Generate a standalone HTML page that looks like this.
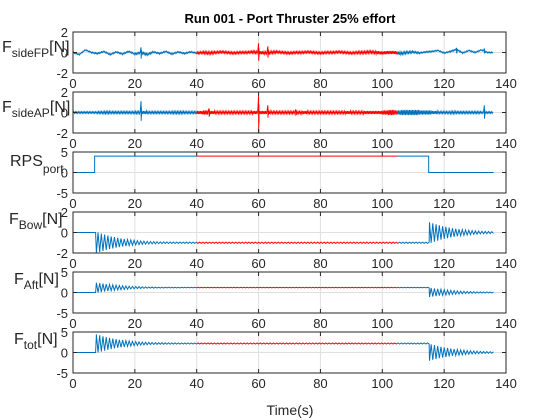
<!DOCTYPE html>
<html><head><meta charset="utf-8">
<style>
html,body{margin:0;padding:0;background:#fff;}
svg{display:block;font-family:"Liberation Sans",Arial,sans-serif;}
</style></head>
<body>
<svg id="chart" width="560" height="420" viewBox="0 0 560 420" xmlns="http://www.w3.org/2000/svg">
<rect width="560" height="420" fill="#fff"/>
<text x="290" y="23" text-anchor="middle" font-size="13" font-weight="bold" fill="#000">Run 001 - Port Thruster 25% effort</text>
<text x="290" y="415" text-anchor="middle" font-size="14" fill="#262626">Time(s)</text>
<g font-family="Liberation Sans, Arial, sans-serif" fill="#262626">
<text x="2" y="52" font-size="16">F<tspan font-size="12" dy="5">sideFP</tspan><tspan font-size="16" dy="-5">[N]</tspan></text>
<text x="2" y="112" font-size="16">F<tspan font-size="12" dy="5">sideAP</tspan><tspan font-size="16" dy="-5">[N]</tspan></text>
<text x="10" y="166" font-size="16">RPS<tspan font-size="12" dy="7">port</tspan></text>
<text x="9" y="224" font-size="16">F<tspan font-size="12" dy="5">Bow</tspan><tspan font-size="16" dy="-5">[N]</tspan></text>
<text x="14" y="284" font-size="16">F<tspan font-size="12" dy="5">Aft</tspan><tspan font-size="16" dy="-5">[N]</tspan></text>
<text x="14" y="344" font-size="16">F<tspan font-size="12" dy="5">tot</tspan><tspan font-size="16" dy="-5">[N]</tspan></text>
</g>
</svg>
<script>
// ---- data ----
const xTicks = [0, 20, 40, 60, 80, 100, 120, 140];
const redStart = 40, redEnd = 105;
const sideTimeStep = 2;
const fpBase = [0,-0.2,0.25,0,-0.1,0.1,-0.2,0.05,-0.15,0.1,-0.15,0,-0.2,0.05,-0.1,0.1,-0.15,0.05,-0.1,0.05,-0.05,
 0,-0.05,0,0.05,0,-0.05,0,0,0.05,0,-0.05,0,0.05,0,-0.05,0,0,0.05,0,-0.05,0,0,0.05,0,-0.05,0,0,0.05,0,-0.05,0,0,
 -0.1,0,0.05,-0.05,0.05,0.1,0.2,-0.05,0.1,0.3,-0.05,0.2,0,0.25,0,0];
const fpNoise = [0.05,0.05,0.05,0.06,0.06,0.06,0.06,0.06,0.06,0.06,0.08,0.1,0.08,0.06,0.06,0.06,0.06,0.06,0.06,0.06,0.1,
 0.12,0.12,0.1,0.1,0.1,0.1,0.1,0.1,0.12,0.15,0.12,0.12,0.1,0.1,0.1,0.1,0.1,0.1,0.1,0.1,0.1,0.1,0.1,0.1,0.1,0.12,0.12,0.12,0.15,0.15,0.15,0.15,
 0.12,0.1,0.08,0.06,0.06,0.05,0.05,0.05,0.06,0.06,0.05,0.05,0.05,0.05,0.05,0.05];
const fpSpikes = [[22,0.5,-0.6],[60,0.9,-0.8],[63,0.6,-0.5],[124,0.4,-0.1],[133,0.4,-0.1]];
const apBase = new Array(69).fill(0);
const apNoise = [0.08,0.08,0.08,0.08,0.1,0.12,0.1,0.1,0.1,0.1,0.12,0.15,0.1,0.1,0.1,0.1,0.12,0.12,0.1,0.1,0.15,
 0.2,0.15,0.12,0.12,0.12,0.12,0.12,0.12,0.15,0.15,0.15,0.12,0.12,0.12,0.12,0.12,0.15,0.12,0.12,0.12,0.12,0.12,0.12,0.15,0.12,0.12,0.15,0.15,0.15,0.2,0.25,0.2,
 0.25,0.25,0.25,0.2,0.2,0.15,0.1,0.1,0.12,0.1,0.1,0.1,0.1,0.08,0.08,0.08];
const apSpikes = [[22,1.1,-0.8],[44,0.4,-0.4],[60,1.6,-2],[63,0.7,-0.5],[72,0.3,-0.3],[133,0.7,-0.6]];
const rpsTimes = [0, 7, 7, 115, 115, 136];
const rpsValues = [0, 0, 4, 4, 0, 0];
// step-response series
const stepOn = 7.3, stepOff = 115, tEnd = 136, halfPeriod = 0.53;
const envelope = [1,0.9,0.8,0.7,0.62,0.55,0.48,0.42,0.37,0.32,0.28,0.24,0.21,0.18,0.16,0.14,0.12,0.11,0.1,0.09,0.09,0.08,0.08,0.07,0.07,0.07,0.06,0.06,0.06];
const rippleLevel = 0.06;
const bowLevels = [0, -1, 0];
const bowAmps = [1.0, 1.0];
const aftLevels = [0, 1.2, 0];
const aftAmps = [1.2, 1.1];
const totLevels = [0, 2.2, 0];
const totAmps = [2.2, 2.0];

// ---- layout ----
const X0 = 73, X1 = 506, XMAX = 140;
const panels = [
 {name:'fsidefp', top:32, yMin:-2, yMax:2, ticks:[-2,0,2]},
 {name:'fsideap', top:92, yMin:-2, yMax:2, ticks:[-2,0,2]},
 {name:'rps', top:152, yMin:-5, yMax:5, ticks:[-5,0,5]},
 {name:'fbow', top:212, yMin:-2, yMax:2, ticks:[-2,0,2]},
 {name:'faft', top:272, yMin:-5, yMax:5, ticks:[-5,0,5]},
 {name:'ftot', top:332, yMin:-5, yMax:5, ticks:[-5,0,5]}];
const H = 41;
const svg = document.getElementById('chart');
const NS = 'http://www.w3.org/2000/svg';
function el(tag, attrs, parent){const e=document.createElementNS(NS,tag);for(const k in attrs)e.setAttribute(k,attrs[k]);(parent||svg).appendChild(e);return e;}
const xs = t => X0 + t/XMAX*(X1-X0);
const BLUE = '#0072BD', RED = '#FF0000';

function sidePoints(base, noise, spikes){
  const pts=[];
  for(let i=0;i<base.length-1;i++){
    const t0=i*sideTimeStep;
    for(let k=0;k<8;k++){
      const t=t0+k*sideTimeStep/8;
      const b=base[i]+(base[i+1]-base[i])*k/8;
      pts.push([t, b+(k%2?noise[i]:-noise[i])]);
    }
  }
  spikes.forEach(s=>{
    let idx=pts.findIndex(p=>p[0]>=s[0]);
    pts.splice(idx,0,[s[0],s[1]],[s[0]+0.05,s[2]],[s[0]+0.1,s[1]*0.5],[s[0]+0.15,s[2]*0.5]);
  });
  return pts;
}
function stepPoints(levels, amps){
  const pts=[[0,levels[0]],[stepOn,levels[0]]];
  [[stepOn,stepOff,1,0],[stepOff,tEnd,2,1]].forEach(([a,b,li,ai])=>{
    const dir = levels[li]>levels[li-1]?1:-1;
    let t=a,k=0;
    while(t<b){
      const env = k/2<envelope.length ? envelope[Math.floor(k/2)] : rippleLevel;
      const sign = (k%2===0)?dir:-dir;
      pts.push([t+halfPeriod/2, levels[li]+sign*amps[ai]*env]);
      t+=halfPeriod;k++;
    }
  });
  return pts;
}
function interpAt(pts, t){
  for(let i=1;i<pts.length;i++){
    if(pts[i][0]>=t && pts[i-1][0]<=t){
      const a=pts[i-1],b=pts[i];
      if(b[0]===a[0]) return b[1];
      return a[1]+(b[1]-a[1])*(t-a[0])/(b[0]-a[0]);
    }
  }
  return pts[pts.length-1][1];
}
function drawSeries(g, pts, yf, name){
  const vs=interpAt(pts,redStart), ve=interpAt(pts,redEnd);
  const segs=[
    pts.filter(p=>p[0]<redStart).concat([[redStart,vs]]),
    [[redStart,vs]].concat(pts.filter(p=>p[0]>=redStart&&p[0]<redEnd)).concat([[redEnd,ve]]),
    [[redEnd,ve]].concat(pts.filter(p=>p[0]>=redEnd))];
  segs.forEach((seg,i)=>{
    if(seg.length<2)return;
    const d=seg.map((p,j)=>(j?'L':'M')+xs(p[0]).toFixed(2)+','+yf(p[1]).toFixed(2)).join('');
    const path=el('path',{d:d,fill:'none',stroke:i===1?RED:BLUE,'stroke-width':1},g);
    
    
  });
}

const seriesPts = [sidePoints(fpBase,fpNoise,fpSpikes), sidePoints(apBase,apNoise,apSpikes),
  rpsTimes.map((t,i)=>[t,rpsValues[i]]), stepPoints(bowLevels,bowAmps), stepPoints(aftLevels,aftAmps), stepPoints(totLevels,totAmps)];

panels.forEach((p,pi)=>{
  const g=el('g',{});
  
  
  const yf=v=>p.top+H-(v-p.yMin)/(p.yMax-p.yMin)*H;
  xTicks.forEach(t=>{
    if(t>0&&t<140){
      const gl=el('line',{x1:xs(t),x2:xs(t),y1:p.top,y2:p.top+H,stroke:'#e0e0e0','stroke-width':1},g);
      
      
    }
  });
  const gy=el('line',{x1:X0,x2:X1,y1:yf(0),y2:yf(0),stroke:'#e0e0e0','stroke-width':1},g);
  
  
  const clip=el('clipPath',{id:'c'+pi},g);
  el('rect',{x:X0,y:p.top,width:X1-X0,height:H},clip);
  const sg=el('g',{'clip-path':'url(#c'+pi+')'},g);
  
  
  drawSeries(sg, seriesPts[pi], yf, p.name);
  const box=el('rect',{x:X0,y:p.top,width:X1-X0,height:H,fill:'none',stroke:'#262626','stroke-width':1},g);
  
  
  xTicks.forEach(t=>{
    el('line',{x1:xs(t),x2:xs(t),y1:p.top+H,y2:p.top+H-4,stroke:'#262626'},g);
    el('line',{x1:xs(t),x2:xs(t),y1:p.top,y2:p.top+4,stroke:'#262626'},g);
    const tx=el('text',{x:xs(t),y:p.top+H+15,'text-anchor':'middle','font-size':13,fill:'#262626'},g);
    tx.textContent=t;
    
    
  });
  p.ticks.forEach(v=>{
    el('line',{x1:X0,x2:X0+4,y1:yf(v),y2:yf(v),stroke:'#262626'},g);
    el('line',{x1:X1,x2:X1-4,y1:yf(v),y2:yf(v),stroke:'#262626'},g);
    const ty=el('text',{x:X0-5,y:yf(v)+5,'text-anchor':'end','font-size':13,fill:'#262626'},g);
    ty.textContent=v;
    
    
  });
});
</script>
</body></html>
